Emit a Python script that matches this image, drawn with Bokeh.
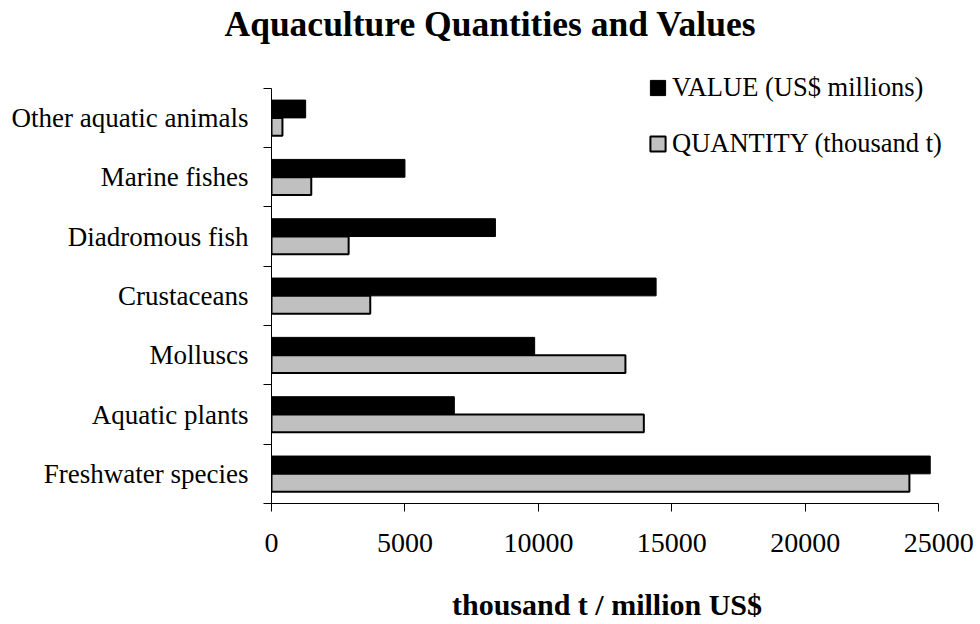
import numpy as np
from bokeh.plotting import figure
from bokeh.models import Range1d, FixedTicker, Legend, LegendItem, ColumnDataSource
from bokeh.transform import dodge
from bokeh.embed import file_html
from bokeh.resources import INLINE

# ---- data ----
categories = ["Freshwater species", "Aquatic plants", "Molluscs", "Crustaceans",
              "Diadromous fish", "Marine fishes", "Other aquatic animals"]
value_musd = [24680, 6850, 9860, 14410, 8390, 5000, 1280]
quantity_kt = [23900, 13950, 13260, 3700, 2890, 1490, 410]
x_ticks = [0, 5000, 10000, 15000, 20000, 25000]
series_names = ["VALUE (US$ millions)", "QUANTITY (thousand t)"]
title_text = "Aquaculture Quantities and Values"
x_label_text = "thousand t / million US$"

FONT = "Liberation Serif"
X_MAX = 25000

n = len(categories)
pos = np.arange(n) + 0.5
src = ColumnDataSource(dict(pos=pos, cat=categories, value=value_musd, quantity=quantity_kt))

# the frame is a little larger than the axes (axes use bounds) so that legend and title fit
p = figure(width=980, height=624,
           x_range=Range1d(0, X_MAX * 1.0056), y_range=Range1d(0, n + 0.72),
           output_backend="svg", toolbar_location=None,
           min_border_left=271, min_border_right=38, min_border_top=45, min_border_bottom=121)
p.outline_line_color = None
p.xgrid.visible = False
p.ygrid.visible = False
p.background_fill_color = "white"
p.border_fill_color = "white"

# title
p.title.text = title_text
p.title.text_font = FONT
p.title.text_font_size = "35.5px"
p.title.text_font_style = "bold"
p.title.text_color = "black"
p.title.align = "left"
p.title.offset = -47
p.title.vertical_align = "top"
p.title.standoff = 0

r_val = p.hbar(y=dodge("pos", 0.15), left=0, right="value", height=0.3,
               fill_color="black", line_color="black", line_width=1, source=src)
r_qty = p.hbar(y=dodge("pos", -0.15), left=0, right="quantity", height=0.3,
               fill_color="#C0C0C0", line_color="black", line_width=2, source=src)

# y axis: labels at category centres, ticks at category boundaries
ya = p.yaxis[0]
ya.bounds = (0, n)
ya.ticker = FixedTicker(ticks=list(pos), minor_ticks=list(range(n + 1)))
ya.major_label_overrides = {float(v): c for v, c in zip(pos, categories)}
ya.major_tick_line_color = None
ya.major_tick_out = 0
ya.major_tick_in = 0
ya.minor_tick_out = 8
ya.minor_tick_in = 0
ya.minor_tick_line_color = "black"
ya.axis_line_color = "black"
ya.major_label_text_font = FONT
ya.major_label_text_font_size = "27px"
ya.major_label_text_color = "black"
ya.major_label_standoff = 15

xa = p.xaxis[0]
xa.bounds = (0, X_MAX)
xa.ticker = FixedTicker(ticks=x_ticks)
xa.major_tick_out = 8
xa.major_tick_in = 0
xa.major_tick_line_color = "black"
xa.minor_tick_line_color = None
xa.axis_line_color = "black"
xa.major_label_text_font = FONT
xa.major_label_text_font_size = "28px"
xa.major_label_text_color = "black"
xa.major_label_standoff = 22
xa.axis_label = x_label_text
xa.axis_label_text_font = FONT
xa.axis_label_text_font_size = "30px"
xa.axis_label_text_font_style = "bold"
xa.axis_label_text_color = "black"
xa.axis_label_standoff = 33

legend = Legend(items=[LegendItem(label=series_names[0], renderers=[r_val]),
                       LegendItem(label=series_names[1], renderers=[r_qty])],
                location=(377, 344), orientation="vertical",
                glyph_width=19, glyph_height=19, label_height=19,
                label_standoff=5, spacing=25, padding=0, margin=0,
                border_line_color=None, background_fill_alpha=0,
                label_text_font=FONT, label_text_font_size="26.5px",
                label_text_color="black")
p.add_layout(legend)

open("out.html", "w").write(file_html(p, INLINE))
